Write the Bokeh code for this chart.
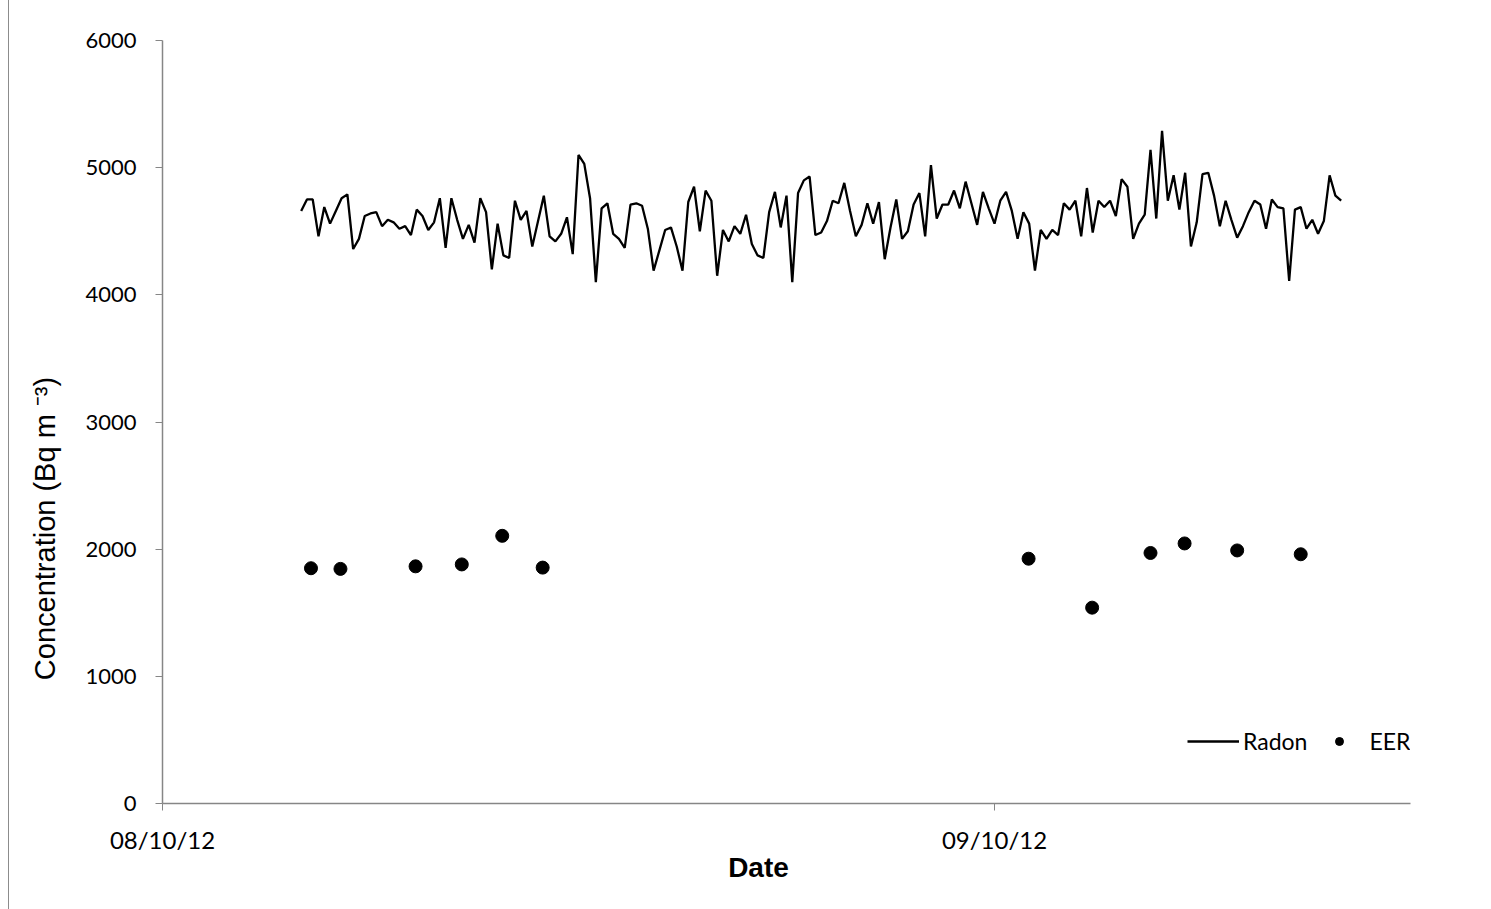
import pandas as pd
from bokeh.plotting import figure
from bokeh.models import (Range1d, FixedTicker, SingleIntervalTicker, DatetimeTickFormatter,
                          Legend, LegendItem, ColumnDataSource, LinearAxis,
                          CustomJSTickFormatter)
from bokeh.embed import file_html
from bokeh.resources import INLINE

# ---------------- data ----------------
radon_start = "2012-10-08 04:00"
radon_step = "10min"
radon = [
    4660, 4750, 4750, 4460, 4690, 4560, 4660, 4760, 4790, 4360,
    4440, 4620, 4640, 4650, 4540, 4590, 4570, 4520, 4540, 4470,
    4670, 4620, 4510, 4570, 4760, 4370, 4760, 4590, 4440, 4550,
    4410, 4760, 4650, 4200, 4560, 4310, 4290, 4740, 4590, 4660,
    4380, 4580, 4780, 4460, 4420, 4480, 4610, 4320, 5100, 5030,
    4760, 4100, 4680, 4720, 4480, 4440, 4370, 4710, 4720, 4700,
    4520, 4190, 4350, 4510, 4530, 4380, 4190, 4730, 4850, 4500,
    4820, 4740, 4150, 4510, 4420, 4540, 4480, 4630, 4400, 4310,
    4290, 4650, 4810, 4530, 4780, 4100, 4800, 4900, 4930, 4470,
    4490, 4580, 4740, 4720, 4880, 4660, 4460, 4550, 4720, 4560,
    4730, 4280, 4530, 4750, 4440, 4500, 4710, 4800, 4460, 5020,
    4600, 4710, 4710, 4820, 4680, 4890, 4720, 4550, 4810, 4680,
    4560, 4740, 4810, 4660, 4440, 4650, 4560, 4190, 4510, 4440,
    4510, 4470, 4720, 4670, 4740, 4460, 4840, 4490, 4740, 4690,
    4740, 4620, 4910, 4850, 4440, 4560, 4630, 5140, 4600, 5290,
    4740, 4940, 4670, 4960, 4380, 4570, 4950, 4960, 4780, 4540,
    4740, 4590, 4450, 4540, 4650, 4740, 4710, 4520, 4750, 4690,
    4680, 4110, 4670, 4690, 4520, 4590, 4480, 4580, 4940, 4780,
    4740,
]
eer_times = [
    "2012-10-08 04:17", "2012-10-08 05:08", "2012-10-08 07:18", "2012-10-08 08:38",
    "2012-10-08 09:48", "2012-10-08 10:58", "2012-10-09 00:59", "2012-10-09 02:49",
    "2012-10-09 04:30", "2012-10-09 05:29", "2012-10-09 07:00", "2012-10-09 08:50",
]
eer = [1850, 1845, 1865, 1880, 2105, 1855, 1925, 1540, 1970, 2045, 1990, 1960]

tick_dates = ["2012-10-08", "2012-10-09"]
tick_format = "%d/%m/%y"
x_start, x_end = "2012-10-08 00:00", "2012-10-09 12:00"
y_start, y_end, y_step = 0, 6000, 1000
x_title = "Date"
y_title = "Concentration (Bq m \u207b\u00b3)"


def ms(t):
    return pd.Timestamp(t).value / 1e6


LEFT_PAD = 9          # space left of the chart-area border
W, H = 1491 - LEFT_PAD, 909
FL, FR, FT, FB = 162, 1410, 40, 803      # plot frame in page pixels
x0, x1 = ms(x_start), ms(x_end)


def px_x(px):
    return x0 + (px - FL) / (FR - FL) * (x1 - x0)


def px_y(py):
    return y_start + (FB - py) / (FB - FT) * (y_end - y_start)


radon_src = ColumnDataSource(dict(
    t=pd.date_range(radon_start, periods=len(radon), freq=radon_step),
    v=radon))
eer_src = ColumnDataSource(dict(t=pd.to_datetime(eer_times), v=eer))

p = figure(width=W, height=H, output_backend="svg", toolbar_location=None,
           x_axis_type="datetime",
           x_range=Range1d(x0, x1), y_range=Range1d(y_start, y_end),
           min_border_left=FL - LEFT_PAD, min_border_right=1491 - FR,
           min_border_top=FT, min_border_bottom=H - FB)
p.styles = {"margin-left": f"{LEFT_PAD - 1}px", "border-left": "1px solid #8c8c8c"}
p.outline_line_color = None
p.grid.visible = False
p.background_fill_color = "white"
p.border_fill_color = "white"

AX = "#868686"
for ax in (p.xaxis[0], p.yaxis[0]):
    ax.axis_line_color = AX
    ax.axis_line_width = 1.5
    ax.major_tick_line_color = AX
    ax.major_tick_line_width = 1
    ax.major_tick_in = 0
    ax.major_tick_out = 7
    ax.minor_tick_line_color = None
    ax.major_label_text_font = "Lato"
    ax.major_label_text_color = "black"

p.yaxis.major_label_text_font_size = "22px"
p.xaxis.major_label_text_font_size = "24px"
p.yaxis.ticker = SingleIntervalTicker(interval=y_step)
p.yaxis.major_label_standoff = 19
p.xaxis.ticker = FixedTicker(ticks=[ms(d) for d in tick_dates])
p.xaxis.formatter = DatetimeTickFormatter(
    milliseconds=tick_format, seconds=tick_format, minsec=tick_format,
    minutes=tick_format, hourmin=tick_format, hours=tick_format,
    days=tick_format, months=tick_format, years=tick_format)
p.xaxis.major_label_standoff = 14

line = p.line("t", "v", source=radon_src, line_color="black", line_width=2.3)
dots = p.scatter("t", "v", source=eer_src, size=13, color="black")

legend = Legend(items=[LegendItem(label="Radon", renderers=[line]),
                       LegendItem(label="EER", renderers=[dots])],
                orientation="horizontal", location=(1025, 48),
                border_line_color=None, background_fill_alpha=0,
                padding=0, margin=0, glyph_width=52, glyph_height=20,
                label_height=20, label_standoff=4, spacing=6,
                label_text_font="Lato", label_text_font_size="23px",
                label_text_color="black")
p.add_layout(legend)


# axis titles, drawn as single-label axes so they can sit off-centre like the original
def title_axis(pos, text, size, style, orient, standoff):
    return LinearAxis(ticker=FixedTicker(ticks=[pos]),
                      formatter=CustomJSTickFormatter(args=dict(t=text), code="return t"),
                      axis_line_color=None, major_tick_line_color=None,
                      minor_tick_line_color=None, major_tick_out=0, major_tick_in=0,
                      major_label_standoff=standoff, major_label_orientation=orient,
                      major_label_text_font="Liberation Sans",
                      major_label_text_font_style=style,
                      major_label_text_font_size=size, major_label_text_color="black")


p.add_layout(title_axis(px_x(758), x_title, "28px", "bold", "horizontal", -5), "below")
p.add_layout(title_axis(px_y(528), y_title, "29px", "normal", "parallel", 22), "left")

open("out.html", "w").write(file_html(p, INLINE))
